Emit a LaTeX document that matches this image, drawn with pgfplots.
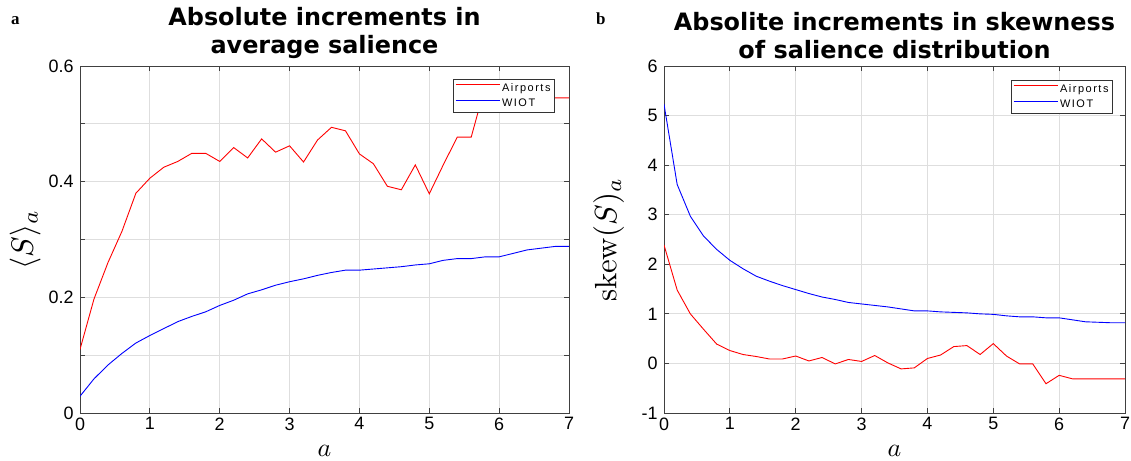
\documentclass[border=0pt]{standalone}
\usepackage[no-math]{fontspec}
\usepackage{graphicx}
\usepackage{pgfplots}
\pgfplotsset{compat=1.18}
\setmainfont{Liberation Sans}
\newfontfamily\titlefont{DejaVu Sans}
\newfontfamily\legfont[LetterSpace=14]{Liberation Sans}
\newfontfamily\panelfont{Liberation Serif}

\pgfplotstableread{
a s
0 0.110
0.2 0.197
0.4 0.260
0.6 0.314
0.8 0.380
1.0 0.406
1.2 0.425
1.4 0.435
1.6 0.449
1.8 0.449
2.0 0.435
2.2 0.459
2.4 0.441
2.6 0.474
2.8 0.451
3.0 0.462
3.2 0.434
3.4 0.472
3.6 0.494
3.8 0.488
4.0 0.448
4.2 0.431
4.4 0.392
4.6 0.386
4.8 0.429
5.0 0.379
5.2 0.429
5.4 0.477
5.6 0.477
5.8 0.565
6.0 0.545
6.2 0.545
6.4 0.545
6.6 0.545
6.8 0.545
7.0 0.545
}\airavg

\pgfplotstableread{
a s
0 0.029
0.2 0.059
0.4 0.083
0.6 0.103
0.8 0.121
1.0 0.134
1.2 0.146
1.4 0.158
1.6 0.167
1.8 0.175
2.0 0.186
2.2 0.195
2.4 0.206
2.6 0.213
2.8 0.221
3.0 0.227
3.2 0.232
3.4 0.238
3.6 0.243
3.8 0.247
4.0 0.247
4.2 0.249
4.4 0.251
4.6 0.253
4.8 0.256
5.0 0.258
5.2 0.264
5.4 0.267
5.6 0.267
5.8 0.270
6.0 0.270
6.2 0.276
6.4 0.282
6.6 0.285
6.8 0.288
7.0 0.288
}\wiotavg

\pgfplotstableread{
a s
0 2.39
0.2 1.48
0.4 1.00
0.6 0.69
0.8 0.39
1.0 0.26
1.2 0.18
1.4 0.14
1.6 0.09
1.8 0.09
2.0 0.15
2.2 0.05
2.4 0.12
2.6 -0.01
2.8 0.08
3.0 0.04
3.2 0.16
3.4 0.01
3.6 -0.11
3.8 -0.09
4.0 0.10
4.2 0.17
4.4 0.34
4.6 0.36
4.8 0.18
5.0 0.40
5.2 0.15
5.4 -0.01
5.6 -0.01
5.8 -0.41
6.0 -0.24
6.2 -0.31
6.4 -0.31
6.6 -0.31
6.8 -0.31
7.0 -0.31
}\airskew

\pgfplotstableread{
a s
0 5.23
0.2 3.61
0.4 2.97
0.6 2.57
0.8 2.30
1.0 2.08
1.2 1.91
1.4 1.76
1.6 1.66
1.8 1.57
2.0 1.49
2.2 1.41
2.4 1.34
2.6 1.29
2.8 1.23
3.0 1.20
3.2 1.17
3.4 1.14
3.6 1.10
3.8 1.06
4.0 1.06
4.2 1.04
4.4 1.03
4.6 1.02
4.8 1.00
5.0 0.99
5.2 0.96
5.4 0.94
5.6 0.94
5.8 0.92
6.0 0.92
6.2 0.88
6.4 0.84
6.6 0.83
6.8 0.82
7.0 0.82
}\wiotskew

\pgfplotsset{
  mystyle/.style={
    scale only axis,
    xmin=0, xmax=7,
    xtick={0,1,...,7},
    grid=major,
    major grid style={color=black!13, line width=0.8bp},
    axis line style={color=black!75, line width=1bp},
    tick style={color=black!75, line width=0.8bp},
    tick align=inside,
    xtick pos=both, ytick pos=both,
    major tick length=5bp,
    ticklabel style={font=\fontsize{18}{18}\selectfont},
    /pgf/number format/assume math mode=true,
    xticklabel style={yshift=-1bp},
    yticklabel style={xshift=-3bp},
    title style={font=\titlefont\bfseries\fontsize{24}{28}\selectfont, align=center, anchor=south, at={(0.5,1)}, yshift=1bp, inner sep=0pt},
    xlabel style={at={(axis description cs:0.5,0)}, anchor=center, yshift=-38bp},
    ylabel style={anchor=center},
    legend style={at={(1,1)}, anchor=north east, font=\legfont\fontsize{11}{11}\selectfont,
      draw=black!80, line width=1bp, inner sep=2bp, row sep=2bp, cells={anchor=west}},
    legend image code/.code={\draw[#1, line width=1bp] (0bp,3.3bp) -- (44bp,3.3bp);},
    every axis plot/.append style={line width=0.9bp},
  }
}

\begin{document}
\begin{tikzpicture}
\useasboundingbox (0,0) rectangle (1131bp,-461bp);

\begin{axis}[mystyle,
  at={(80bp,-413bp)}, anchor=south west,
  width=489bp, height=347bp,
  ymin=0, ymax=0.6,
  ytick={0,0.1,...,0.6},
  yticklabels={0,,0.2,,0.4,,0.6},
  xlabel={\scalebox{2.6}{$a$}},
  ylabel={\scalebox{3.1}{$\langle S\rangle_a$}},
  ylabel style={at={(axis description cs:-0.112,0.5)}},
  title={Absolute increments in\\average salience},
  legend style={xshift=-14bp, yshift=-13bp},
]
\addplot[color=red, no marks] table[x=a, y=s] {\airavg};
\addlegendentry{Airports}
\addplot[color=blue, no marks] table[x=a, y=s] {\wiotavg};
\addlegendentry{WIOT}
\end{axis}

\begin{axis}[mystyle,
  at={(664bp,-413bp)}, anchor=south west,
  width=461bp, height=347bp,
  ymin=-1, ymax=6,
  ytick={-1,0,...,6},
  yticklabels={-1,0,1,2,3,4,5,6},
  xlabel={\scalebox{2.6}{$a$}},
  ylabel={\scalebox{3.1}{$\mathrm{skew}(S)_a$}},
  ylabel style={at={(axis description cs:-0.12,0.5)}},
  title={Absolite increments in skewness\\of salience distribution},
  legend style={xshift=-12bp, yshift=-14bp},
]
\addplot[color=red, no marks] table[x=a, y=s] {\airskew};
\addlegendentry{Airports}
\addplot[color=blue, no marks] table[x=a, y=s] {\wiotskew};
\addlegendentry{WIOT}
\end{axis}

\node[anchor=base west, inner sep=0pt, font=\panelfont\bfseries\fontsize{17}{17}\selectfont] at (11bp,-24bp) {a};
\node[anchor=base west, inner sep=0pt, font=\panelfont\bfseries\fontsize{17}{17}\selectfont] at (596bp,-24bp) {b};
\end{tikzpicture}
\end{document}
